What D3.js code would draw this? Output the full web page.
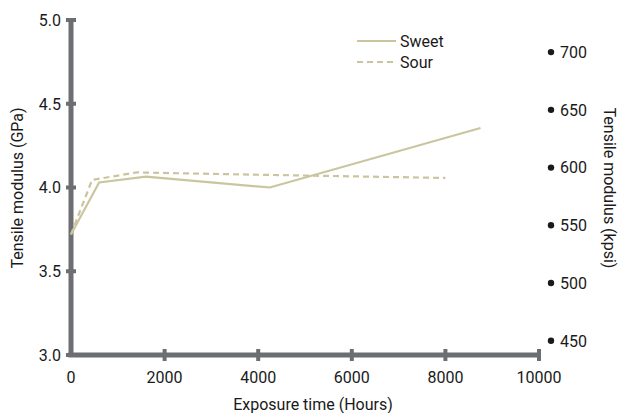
<!DOCTYPE html>
<html><head><meta charset="utf-8">
<script src="https://cdn.jsdelivr.net/npm/d3@7"></script>
<style>body{margin:0;background:#fff}text{font-family:Roboto,sans-serif;fill:#1a1a1a}</style>
</head><body><svg id="c" width="619" height="413"></svg>
<script>
const xTicks = [0, 2000, 4000, 6000, 8000, 10000];
const yTicks = [3.0, 3.5, 4.0, 4.5, 5.0];
const kpsiTicks = [450, 500, 550, 600, 650, 700];
const sweetX = [0, 600, 1600, 4250, 8750];
const sweetY = [3.72, 4.03, 4.065, 4.00, 4.355];
const sourX = [0, 450, 1400, 4250, 8000];
const sourY = [3.72, 4.045, 4.09, 4.075, 4.057];
const seriesNames = ["Sweet", "Sour"];
const GPA_TO_KPSI = 145.038;

const svg = d3.select("#c");
const color = "#cbc59f", axisCol = "#6d6e71";
const x = d3.scaleLinear().domain([0, 10000]).range([71, 539]);
const y = d3.scaleLinear().domain([3, 5]).range([355, 20]);
const yk = d3.scaleLinear().domain([3 * GPA_TO_KPSI, 5 * GPA_TO_KPSI]).range([355, 20]);

// axes lines
svg.append("line").attr("x1", x(0)).attr("x2", x(0)).attr("y1", y(5)).attr("y2", y(3))
  .attr("stroke", axisCol).attr("stroke-width", 5);
svg.append("line").attr("x1", x(0) - 2.5).attr("x2", x(10000)).attr("y1", y(3)).attr("y2", y(3))
  .attr("stroke", axisCol).attr("stroke-width", 5);
// y ticks
yTicks.forEach(v => {
  svg.append("line").attr("x1", x(0) - 5).attr("x2", x(0) + 5).attr("y1", y(v)).attr("y2", y(v))
    .attr("stroke", axisCol).attr("stroke-width", 4);
  svg.append("text").attr("x", 61).attr("y", y(v)).attr("dy", "0.36em").attr("text-anchor", "end")
    .attr("font-size", 16).text(d3.format(".1f")(v));
});
xTicks.forEach(v => {
  if (v > 0) svg.append("line").attr("x1", x(v)).attr("x2", x(v)).attr("y1", y(3) - 6).attr("y2", y(3) + 6)
    .attr("stroke", axisCol).attr("stroke-width", 4);
  svg.append("text").attr("x", x(v)).attr("y", 383).attr("text-anchor", "middle")
    .attr("font-size", 16).text(v);
});
// right kpsi ticks
kpsiTicks.forEach(v => {
  svg.append("circle").attr("cx", 551).attr("cy", yk(v) + 3).attr("r", 3.2).attr("fill", "#1a1a1a");
  svg.append("text").attr("x", 560).attr("y", yk(v) + 3).attr("dy", "0.36em").attr("font-size", 16).text(v);
});
// titles
svg.append("text").attr("transform", "translate(23,188) rotate(-90)").attr("text-anchor", "middle")
  .attr("font-size", 16).text("Tensile modulus (GPa)");
svg.append("text").attr("transform", "translate(604,188) rotate(90)").attr("text-anchor", "middle")
  .attr("font-size", 16).text("Tensile modulus (kpsi)");
svg.append("text").attr("x", 313).attr("y", 410).attr("text-anchor", "middle")
  .attr("font-size", 16).text("Exposure time (Hours)");

// lines
const line = d3.line().x(d => x(d[0])).y(d => y(d[1]));
const sweet = sweetX.map((v, i) => [v, sweetY[i]]);
const sour = sourX.map((v, i) => [v, sourY[i]]);
svg.append("path").attr("d", line(sweet)).attr("fill", "none").attr("stroke", color).attr("stroke-width", 2.2);
svg.append("path").attr("d", line(sour)).attr("fill", "none").attr("stroke", color).attr("stroke-width", 2.2)
  .attr("stroke-dasharray", "6,4");

// legend
[[41, null], [62, "6,4"]].forEach((l, i) => {
  svg.append("line").attr("x1", 357).attr("x2", 396).attr("y1", l[0]).attr("y2", l[0])
    .attr("stroke", color).attr("stroke-width", 2.2).attr("stroke-dasharray", l[1]);
  svg.append("text").attr("x", 400).attr("y", l[0]).attr("dy", "0.36em").attr("font-size", 16).text(seriesNames[i]);
});
</script></body></html>
